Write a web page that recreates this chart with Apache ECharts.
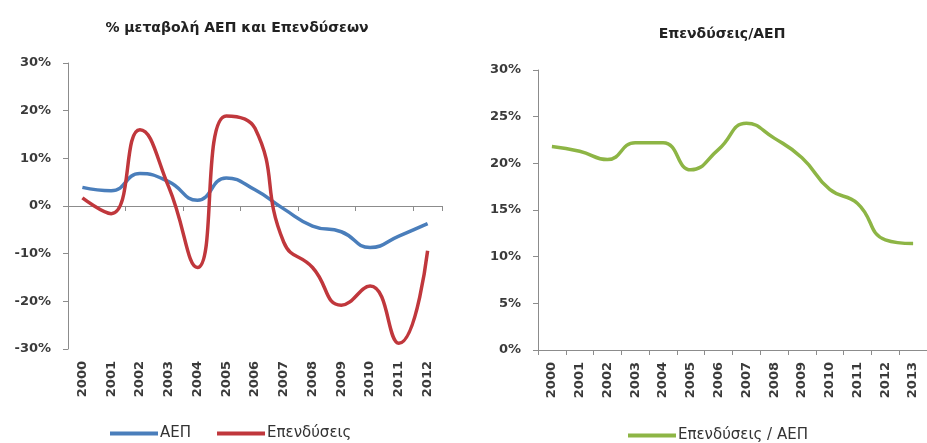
<!DOCTYPE html>
<html>
<head>
<meta charset="utf-8">
<script src="https://cdn.jsdelivr.net/npm/echarts@6/dist/echarts.min.js"></script>
<style>
  html, body { margin: 0; padding: 0; background: #fff; }
  #chart { width: 927px; height: 443px; }
</style>
</head>
<body>
<div id="chart"></div>
<script>
// left chart: % change of GDP and investment
const yearsLeft = ['2000', '2001', '2002', '2003', '2004', '2005', '2006', '2007', '2008', '2009', '2010', '2011', '2012'];
const gdpChange = [3.9, 3.2, 6.8, 5.1, 1.2, 5.9, 3.4, -0.6, -4.2, -5.4, -8.7, -6.3, -3.7];
const investChange = [1.7, -1.6, 16.0, 4.0, -12.9, 18.9, 16.3, -7.6, -12.9, -20.8, -16.8, -28.8, -9.4];
const leftTicks = [-30, 30, 10];

// right chart: investment / GDP
const yearsRight = ['2000', '2001', '2002', '2003', '2004', '2005', '2006', '2007', '2008', '2009', '2010', '2011', '2012', '2013'];
const investToGdp = [21.8, 21.3, 20.4, 22.2, 22.2, 19.3, 21.5, 24.3, 22.7, 20.6, 17.2, 15.7, 11.8, 11.4];
const rightTicks = [0, 30, 5];

const axisGrey = '#8c8c8c';
const labelFont = 'DejaVu Sans';

const chart = echarts.init(document.getElementById('chart'));

function valueAxis(gridIndex, ticks) {
  return {
    type: 'value',
    gridIndex: gridIndex,
    min: ticks[0],
    max: ticks[1],
    interval: ticks[2],
    axisLine: { show: true, lineStyle: { color: axisGrey, width: 1 } },
    axisTick: { show: true, length: 5, lineStyle: { color: axisGrey } },
    splitLine: { show: false },
    axisLabel: {
      margin: 17,
      color: '#3a3a3a',
      fontFamily: labelFont,
      fontWeight: 'bold',
      fontSize: 13,
      formatter: '{value}%'
    }
  };
}

function yearLabels() {
  return {
    rotate: 90,
    margin: 12,
    color: '#3a3a3a',
    fontFamily: labelFont,
    fontWeight: 'bold',
    fontSize: 13,
    interval: 0
  };
}

const option = {
  animation: false,
  title: [
    {
      text: '% μεταβολή ΑΕΠ και Επενδύσεων',
      left: 232, top: 16, textAlign: 'center',
      textStyle: { fontFamily: labelFont, fontWeight: 'bold', fontSize: 14, color: '#222' }
    },
    {
      text: 'Επενδύσεις/ΑΕΠ',
      left: 717, top: 22, textAlign: 'center',
      textStyle: { fontFamily: labelFont, fontWeight: 'bold', fontSize: 14, color: '#222' }
    }
  ],
  legend: [
    {
      data: ['ΑΕΠ', 'Επενδύσεις'],
      left: 105, top: 421,
      icon: 'rect', itemWidth: 48, itemHeight: 4, itemGap: 26,
      textStyle: { fontFamily: labelFont, fontSize: 15, color: '#333', padding: [0, 0, 0, -3] }
    },
    {
      data: ['Επενδύσεις / ΑΕΠ'],
      left: 623, top: 423,
      icon: 'rect', itemWidth: 48, itemHeight: 4,
      textStyle: { fontFamily: labelFont, fontSize: 15, color: '#333', padding: [0, 0, 0, -3] }
    }
  ],
  grid: [
    { left: 68, right: 485, top: 63, bottom: 94 },
    { left: 538, right: -9, top: 70, bottom: 93 }
  ],
  xAxis: [
    {
      type: 'category', gridIndex: 0, data: yearsLeft,
      axisLine: { onZero: true, lineStyle: { color: axisGrey } },
      axisTick: { show: true, length: 5, lineStyle: { color: axisGrey } },
      axisLabel: { show: false }
    },
    {
      type: 'category', gridIndex: 0, data: yearsLeft, position: 'bottom',
      axisLine: { show: false, onZero: false },
      axisTick: { show: false },
      axisLabel: yearLabels()
    },
    {
      type: 'category', gridIndex: 1, data: yearsRight,
      axisLine: { lineStyle: { color: axisGrey } },
      axisTick: { show: true, length: 5, lineStyle: { color: axisGrey } },
      axisLabel: yearLabels()
    }
  ],
  yAxis: [valueAxis(0, leftTicks), valueAxis(1, rightTicks)],
  series: [
    {
      name: 'ΑΕΠ', type: 'line', xAxisIndex: 0, yAxisIndex: 0,
      data: gdpChange, smooth: 0.5, showSymbol: false,
      lineStyle: { width: 3.5, color: '#4a7ebb' }, itemStyle: { color: '#4a7ebb' }
    },
    {
      name: 'Επενδύσεις', type: 'line', xAxisIndex: 0, yAxisIndex: 0,
      data: investChange, smooth: 0.5, showSymbol: false,
      lineStyle: { width: 3.5, color: '#c0373c' }, itemStyle: { color: '#c0373c' }
    },
    {
      name: 'Επενδύσεις / ΑΕΠ', type: 'line', xAxisIndex: 2, yAxisIndex: 1,
      data: investToGdp, smooth: 0.5, showSymbol: false,
      lineStyle: { width: 3.5, color: '#8db545' }, itemStyle: { color: '#8db545' }
    }
  ]
};

chart.setOption(option);
</script>
</body>
</html>
